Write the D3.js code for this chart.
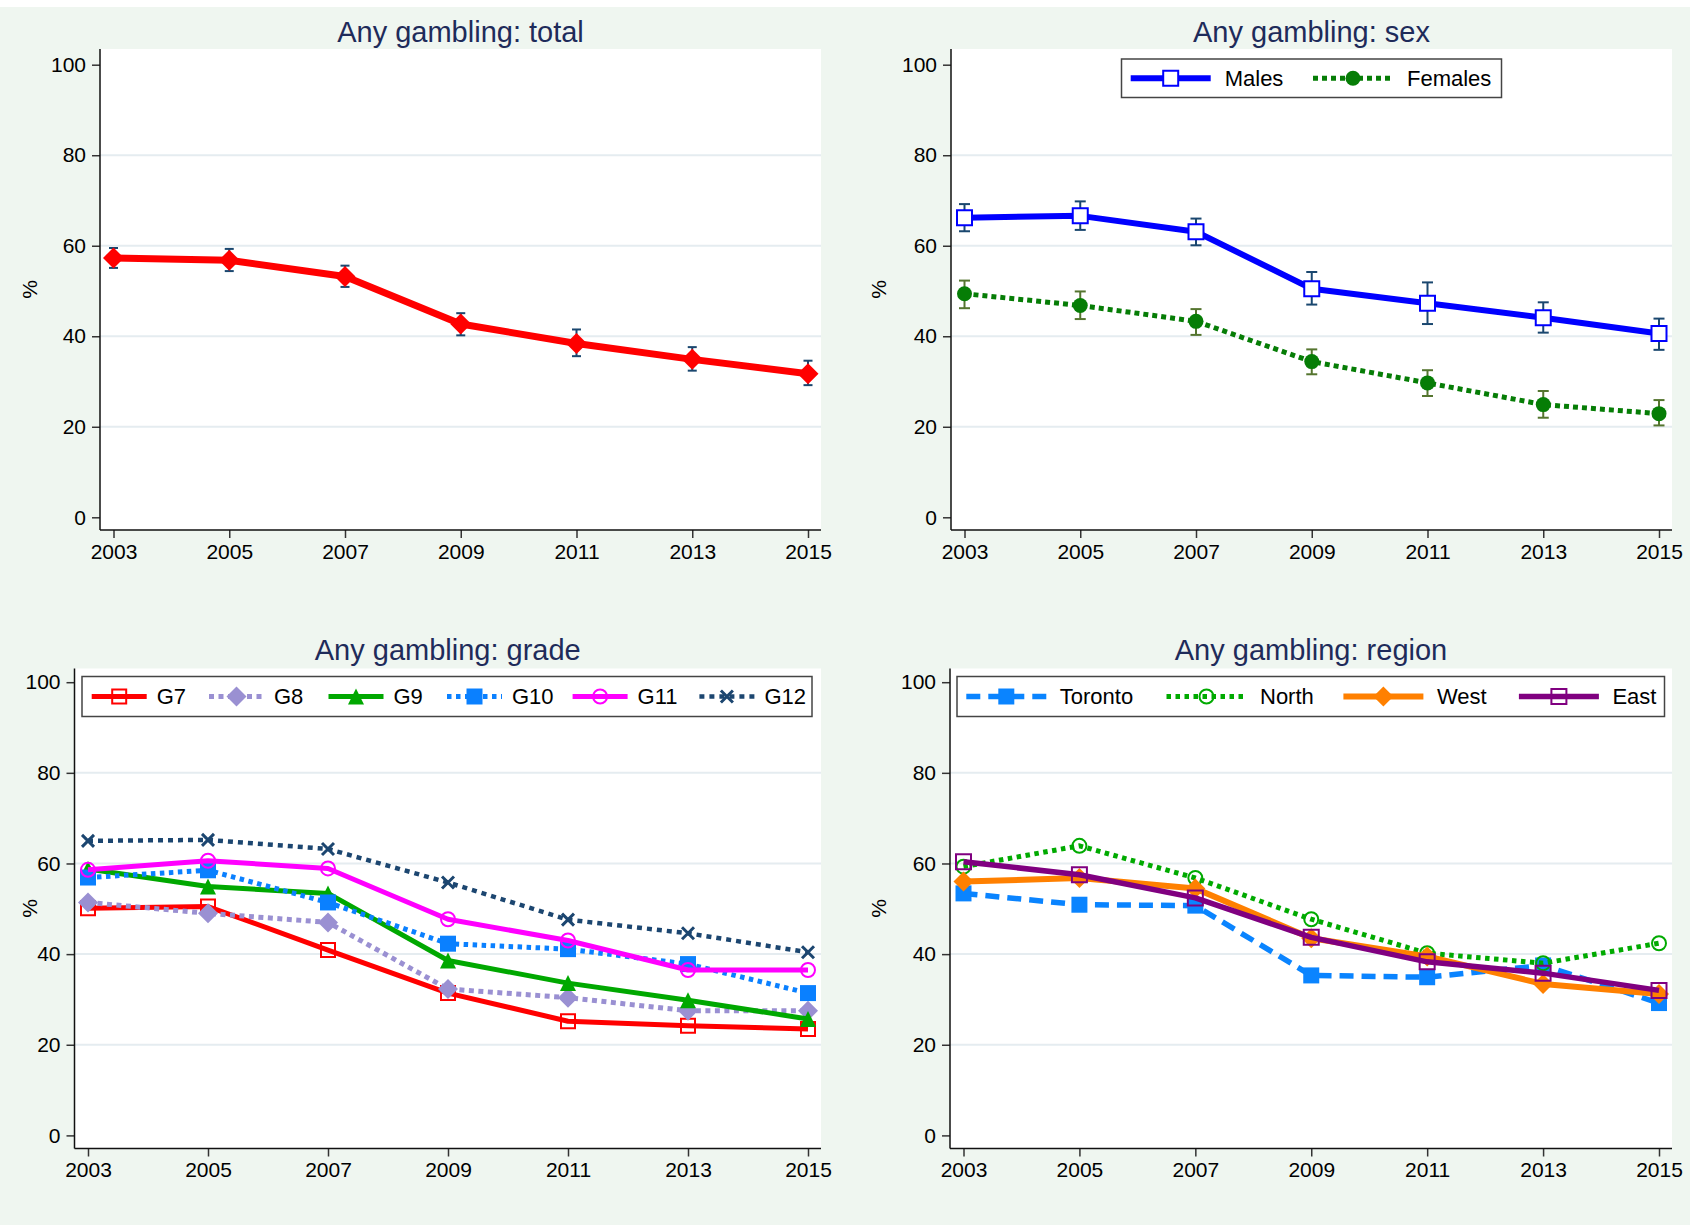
<!DOCTYPE html>
<html><head><meta charset="utf-8">
<script src="https://cdn.jsdelivr.net/npm/d3@7"></script>
<style>body{margin:0;background:#fff}svg{display:block}</style>
</head><body>
<script>
// ---------------- DATA ----------------
const years = [2003, 2005, 2007, 2009, 2011, 2013, 2015];
const yTicks = [0, 20, 40, 60, 80, 100];

const totalValues = [57.3, 56.8, 53.2, 42.7, 38.4, 34.9, 31.7];
const totalLower  = [55.1, 54.4, 50.9, 40.2, 35.6, 32.4, 29.2];
const totalUpper  = [59.5, 59.3, 55.6, 45.1, 41.5, 37.6, 34.6];

const sexNames = ["Males", "Females"];
const malesValues   = [66.2, 66.6, 63.1, 50.5, 47.3, 44.1, 40.6];
const malesLower    = [63.2, 63.5, 60.1, 47.0, 42.7, 40.8, 37.0];
const malesUpper    = [69.2, 69.8, 66.0, 54.2, 51.9, 47.5, 43.9];
const femalesValues = [49.4, 46.8, 43.3, 34.4, 29.7, 24.9, 22.9];
const femalesLower  = [46.2, 43.8, 40.3, 31.6, 26.8, 22.0, 20.3];
const femalesUpper  = [52.3, 49.9, 46.0, 37.1, 32.5, 27.9, 25.9];

const gradeNames = ["G7", "G8", "G9", "G10", "G11", "G12"];
const g7  = [50.1, 50.5, 40.9, 31.4, 25.2, 24.2, 23.5];
const g8  = [51.4, 49.0, 47.0, 32.3, 30.4, 27.5, 27.5];
const g9  = [58.8, 54.9, 53.4, 38.6, 33.6, 29.8, 25.7];
const g10 = [56.9, 58.5, 51.4, 42.3, 41.1, 37.8, 31.4];
const g11 = [58.6, 60.6, 58.9, 47.7, 43.0, 36.5, 36.5];
const g12 = [65.0, 65.2, 63.2, 55.8, 47.6, 44.6, 40.4];

const regionNames = ["Toronto", "North", "West", "East"];
const toronto = [53.4, 50.9, 50.7, 35.3, 34.9, 37.5, 29.2];
const north   = [59.3, 63.9, 56.8, 47.7, 40.2, 38.0, 42.4];
const west    = [56.0, 56.8, 54.5, 43.5, 39.5, 33.4, 31.2];
const east    = [60.4, 57.5, 52.4, 43.7, 38.3, 35.8, 32.0];

const titles = ["Any gambling: total", "Any gambling: sex", "Any gambling: grade", "Any gambling: region"];

// ---------------- STYLE / LAYOUT ----------------
const W = 1690, H = 1225;
const FONT = "'Liberation Sans', Arial, Helvetica, sans-serif";
const TITLE_COLOR = "#1E2B5A";
const svg = d3.select("body").append("svg").attr("width", W).attr("height", H);
svg.append("rect").attr("width", W).attr("height", H).attr("fill", "#EFF6F0");
svg.append("rect").attr("width", W).attr("height", 7).attr("fill", "#FFFFFF");

function markerPath(type, s) {
  const h = s / 2;
  switch (type) {
    case "square": return `M${-h},${-h}h${s}v${s}h${-s}Z`;
    case "diamond": return `M0,${-h}L${h},0L0,${h}L${-h},0Z`;
    case "triangle": return `M0,${-h}L${h},${h}L${-h},${h}Z`;
    case "circle": return `M${h},0A${h},${h} 0 1,1 ${-h},0A${h},${h} 0 1,1 ${h},0Z`;
    case "x": return `M${-h},${-h}L${h},${h}M${h},${-h}L${-h},${h}`;
  }
}

function drawMarker(g, st, cx, cy) {
  const p = g.append("path").attr("d", markerPath(st.marker, st.size))
    .attr("transform", `translate(${cx},${cy})`);
  if (st.marker === "x") {
    p.attr("fill", "none").attr("stroke", st.color).attr("stroke-width", st.mstroke || 3);
  } else if (st.hollow) {
    p.attr("fill", st.mfill || "none").attr("stroke", st.color).attr("stroke-width", st.mstroke || 2);
  } else {
    p.attr("fill", st.color).attr("stroke", "none");
  }
}

function panel(cfg) {
  const g = svg.append("g");
  const { left, right, top, bottom, y0, y100 } = cfg;
  g.append("rect").attr("x", left).attr("y", top).attr("width", right - left)
    .attr("height", bottom - top).attr("fill", "#FFFFFF");
  const x = d3.scaleLinear().domain([2003, 2015]).range([left + 13.5, right - 13]);
  const y = d3.scaleLinear().domain([0, 100]).range([y0, y100]);

  // grid lines
  g.append("g").selectAll("line").data(yTicks.filter(t => t > 0 && t < 100)).join("line")
    .attr("x1", left).attr("x2", right)
    .attr("y1", d => y(d)).attr("y2", d => y(d))
    .attr("stroke", "#E5ECF0").attr("stroke-width", 2);

  // axes
  const ya = g.append("g").attr("transform", `translate(${left},0)`)
    .call(d3.axisLeft(y).tickValues(yTicks).tickSize(8).tickPadding(6));
  const xa = g.append("g").attr("transform", `translate(0,${bottom})`)
    .call(d3.axisBottom(x).tickValues(years).tickFormat(d3.format("d")).tickSize(8).tickPadding(6));
  [ya, xa].forEach(a => {
    a.select(".domain").remove();
    a.attr("font-family", FONT).attr("font-size", 21);
    a.selectAll("text").attr("fill", "#000");
    a.selectAll(".tick line").attr("stroke", "#333").attr("stroke-width", 1.5);
  });
  g.append("line").attr("x1", left).attr("x2", left).attr("y1", top).attr("y2", bottom)
    .attr("stroke", "#111").attr("stroke-width", 1.5);
  g.append("line").attr("x1", left).attr("x2", right).attr("y1", bottom).attr("y2", bottom)
    .attr("stroke", "#111").attr("stroke-width", 1.5);

  // titles
  g.append("text").attr("x", (left + right) / 2).attr("y", cfg.titleY)
    .attr("text-anchor", "middle").attr("font-family", FONT).attr("font-size", 29)
    .attr("fill", TITLE_COLOR).text(cfg.title);
  g.append("text").attr("transform", `translate(${cfg.pctX + 7.5},${(top + bottom) / 2}) rotate(-90)`)
    .attr("text-anchor", "middle").attr("font-family", FONT).attr("font-size", 21)
    .attr("fill", "#000").text("%");
  return { g, x, y };
}

function drawErr(P, lower, upper, color, capW) {
  const eg = P.g.append("g").attr("stroke", color).attr("stroke-width", 2).attr("fill", "none");
  years.forEach((yr, i) => {
    const cx = P.x(yr), a = P.y(lower[i]), b = P.y(upper[i]);
    eg.append("line").attr("x1", cx).attr("x2", cx).attr("y1", a).attr("y2", b);
    eg.append("line").attr("x1", cx - capW / 2).attr("x2", cx + capW / 2).attr("y1", a).attr("y2", a);
    eg.append("line").attr("x1", cx - capW / 2).attr("x2", cx + capW / 2).attr("y1", b).attr("y2", b);
  });
}

function drawSeries(P, values, st) {
  const line = d3.line().x((d, i) => P.x(years[i])).y(d => P.y(d));
  P.g.append("path").datum(values).attr("d", line).attr("fill", "none")
    .attr("stroke", st.color).attr("stroke-width", st.width)
    .attr("stroke-dasharray", st.dash || null).attr("stroke-linejoin", "round");
  const mg = P.g.append("g");
  values.forEach((v, i) => drawMarker(mg, st, P.x(years[i]), P.y(v)));
}

function drawLegend(box, keyStarts, keyLen, textOff, names, styles) {
  const lg = svg.append("g");
  lg.append("rect").attr("x", box.x1).attr("y", box.y1).attr("width", box.x2 - box.x1)
    .attr("height", box.y2 - box.y1).attr("fill", "#fff").attr("stroke", "#444").attr("stroke-width", 1.5);
  const cy = (box.y1 + box.y2) / 2;
  names.forEach((n, i) => {
    const st = styles[i], k = keyStarts[i];
    lg.append("line").attr("x1", k).attr("x2", k + keyLen).attr("y1", cy).attr("y2", cy)
      .attr("stroke", st.color).attr("stroke-width", st.width).attr("stroke-dasharray", st.dash || null);
    drawMarker(lg, st, k + keyLen / 2, cy);
    lg.append("text").attr("x", k + textOff).attr("y", cy).attr("dy", "0.36em")
      .attr("font-family", FONT).attr("font-size", 22).attr("fill", "#000").text(n);
  });
}

// ---------------- PANEL 1: total ----------------
const P1 = panel({ left: 100, right: 821, top: 49, bottom: 530, y0: 517.3, y100: 64.7,
  title: titles[0], titleY: 42, pctX: 29.6 });
drawErr(P1, totalLower, totalUpper, "#1A476F", 9);
drawSeries(P1, totalValues, { color: "#FF0000", width: 7, marker: "diamond", size: 21 });

// ---------------- PANEL 2: sex ----------------
const P2 = panel({ left: 951, right: 1672, top: 49, bottom: 530, y0: 517.3, y100: 64.7,
  title: titles[1], titleY: 42, pctX: 878 });
const sexStyles = [
  { color: "#0000FF", width: 6, marker: "square", size: 15, hollow: true, mfill: "#fff", mstroke: 2 },
  { color: "#067D06", width: 5, dash: "5,4", marker: "circle", size: 15 }
];
drawErr(P2, malesLower, malesUpper, "#1A476F", 11);
drawErr(P2, femalesLower, femalesUpper, "#55752F", 11);
drawSeries(P2, malesValues, sexStyles[0]);
drawSeries(P2, femalesValues, sexStyles[1]);
drawLegend({ x1: 1121.5, x2: 1501.5, y1: 59, y2: 97.5 }, [1130.7, 1313], 80, 94, sexNames, sexStyles);

// ---------------- PANEL 3: grade ----------------
const P3 = panel({ left: 74.5, right: 821, top: 668.5, bottom: 1148.5, y0: 1135.4, y100: 682.2,
  title: titles[2], titleY: 660, pctX: 29.4 });
const gradeStyles = [
  { color: "#FF0000", width: 5, marker: "square", size: 14, hollow: true, mstroke: 2 },
  { color: "#9A90D2", width: 5, dash: "5,4.5", marker: "diamond", size: 20 },
  { color: "#00A800", width: 5, marker: "triangle", size: 16 },
  { color: "#0A80FF", width: 5, dash: "4.5,4.5", marker: "square", size: 16 },
  { color: "#FF00FF", width: 5, marker: "circle", size: 14, hollow: true, mstroke: 2 },
  { color: "#1C4670", width: 4.5, dash: "5,5", marker: "x", size: 12, mstroke: 3 }
];
[g7, g8, g9, g10, g11, g12].forEach((vals, i) => drawSeries(P3, vals, gradeStyles[i]));
drawLegend({ x1: 82, x2: 812, y1: 676.5, y2: 716.5 },
  [91.7, 209, 328.5, 447, 572.6, 699.4], 55, 65, gradeNames, gradeStyles);

// ---------------- PANEL 4: region ----------------
const P4 = panel({ left: 950, right: 1672, top: 668.5, bottom: 1148.5, y0: 1135.4, y100: 682.2,
  title: titles[3], titleY: 660, pctX: 878 });
const regionStyles = [
  { color: "#0A84FF", width: 5.5, dash: "14,8", marker: "square", size: 16 },
  { color: "#00AA00", width: 5, dash: "4.5,4.5", marker: "circle", size: 14, hollow: true, mstroke: 2 },
  { color: "#FF8000", width: 6, marker: "diamond", size: 20 },
  { color: "#800080", width: 5.5, marker: "square", size: 15, hollow: true, mstroke: 2 }
];
[toronto, north, west, east].forEach((vals, i) => drawSeries(P4, vals, regionStyles[i]));
drawLegend({ x1: 957, x2: 1664.5, y1: 676.5, y2: 716.5 },
  [966.3, 1166.5, 1343.4, 1518.9], 80, 93.5, regionNames, regionStyles);
</script>
</body></html>
